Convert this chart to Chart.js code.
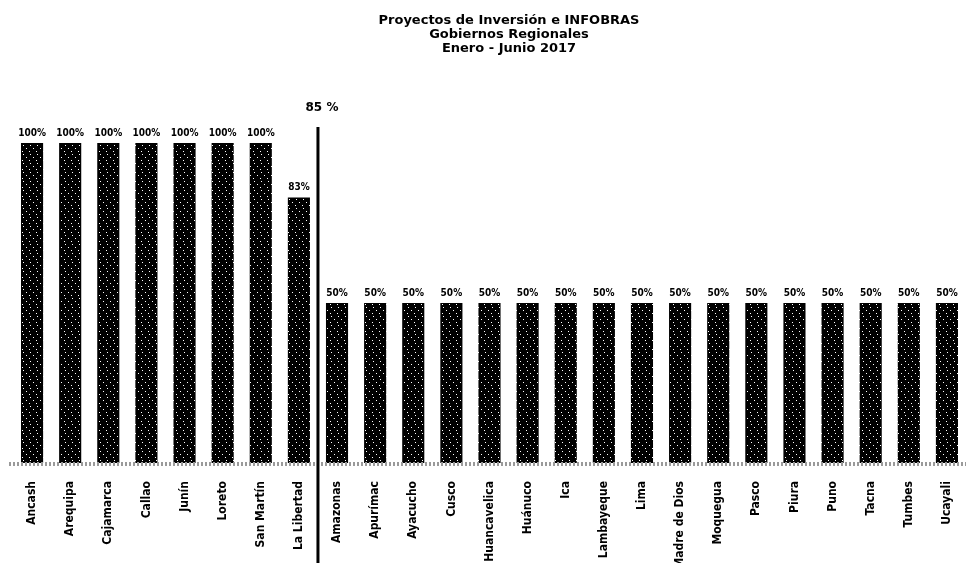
<!DOCTYPE html>
<html>
<head>
<meta charset="utf-8">
<script src="https://cdn.jsdelivr.net/npm/chart.js@4"></script>
<style>
  body { margin: 0; background: #fff; }
  #wrap { width: 966px; height: 563px; }
</style>
</head>
<body>
<div id="wrap"><canvas id="grafico" width="966" height="563"></canvas></div>
<script>
// datos
let regiones = ["Ancash","Arequipa","Cajamarca","Callao","Junín","Loreto","San Martín","La Libertad",
  "Amazonas","Apurímac","Ayacucho","Cusco","Huancavelica","Huánuco","Ica","Lambayeque","Lima",
  "Madre de Dios","Moquegua","Pasco","Piura","Puno","Tacna","Tumbes","Ucayali"];
let porcentaje = [100,100,100,100,100,100,100,83,
  50,50,50,50,50,50,50,50,50,50,50,50,50,50,50,50,50];
let titulo = ["Proyectos de Inversión e INFOBRAS","Gobiernos Regionales","Enero - Junio 2017"];
let promedio = "85 %";
let corte = 7; // linea entre La Libertad y Amazonas

// relleno negro con puntitos blancos
function trama(){
  let c = document.createElement("canvas");
  c.width = 7; c.height = 9;
  let g = c.getContext("2d");
  g.fillStyle = "#000";
  g.fillRect(0,0,7,9);
  g.fillStyle = "#fff";
  g.fillRect(2,1,1,1);
  g.fillRect(5,4,1,1);
  g.fillRect(1,7,1,1);
  return g.createPattern(c,"repeat");
}

let extras = {
  id: "extras",
  afterDatasetsDraw(chart){
    let ctx = chart.ctx, x = chart.scales.x, y = chart.scales.y;
    let area = chart.chartArea;
    ctx.save();
    // piso gris punteado
    ctx.strokeStyle = "#9a9a9a";
    ctx.lineWidth = 4;
    ctx.setLineDash([2,2]);
    ctx.beginPath();
    ctx.moveTo(area.left - 4, y.getPixelForValue(0) + 1);
    ctx.lineTo(chart.width, y.getPixelForValue(0) + 1);
    ctx.stroke();
    ctx.setLineDash([]);

    // etiquetas de valor
    ctx.fillStyle = "#000";
    ctx.font = "bold 10px 'DejaVu Sans Condensed'";
    ctx.textAlign = "center";
    ctx.textBaseline = "bottom";
    chart.getDatasetMeta(0).data.forEach(function(bar,i){
      ctx.fillText(porcentaje[i] + "%", bar.x, bar.y - 5);
    });

    // linea de corte
    let xc = (x.getPixelForValue(corte) + x.getPixelForValue(corte + 1)) / 2;
    ctx.fillRect(xc - 1.5, y.getPixelForValue(100) - 16, 3, chart.height);
    ctx.font = "bold 12px 'DejaVu Sans'";
    ctx.textBaseline = "middle";
    ctx.fillText(promedio, xc + 4, y.getPixelForValue(100) - 35);

    // titulo
    ctx.font = "bold 13px 'DejaVu Sans'";
    titulo.forEach(function(t,i){
      ctx.fillText(t, 509, 21 + i*14);
    });
    ctx.restore();
  }
};

let ctx = document.getElementById("grafico").getContext("2d");
let chart = new Chart(ctx, {
  type: "bar",
  data: {
    labels: regiones,
    datasets: [{
      data: porcentaje,
      backgroundColor: trama(),
      borderWidth: 0,
      categoryPercentage: 1,
      barPercentage: 0.58
    }]
  },
  options: {
    responsive: false,
    animation: false,
    layout: { padding: { top: 143, left: 13, right: -3, bottom: 0 } },
    plugins: { legend: { display: false }, tooltip: { enabled: false } },
    scales: {
      y: { display: false, min: 0, max: 100 },
      x: {
        grid: { display: false },
        border: { display: false },
        afterFit: function(s){ s.height = 100; s.paddingLeft = 0; s.paddingRight = 0; },
        ticks: {
          color: "#000",
          autoSkip: false,
          minRotation: 90,
          maxRotation: 90,
          padding: 10,
          font: { family: "'DejaVu Sans Condensed'", size: 12, weight: "bold" }
        }
      }
    }
  },
  plugins: [extras]
});
</script>
</body>
</html>
